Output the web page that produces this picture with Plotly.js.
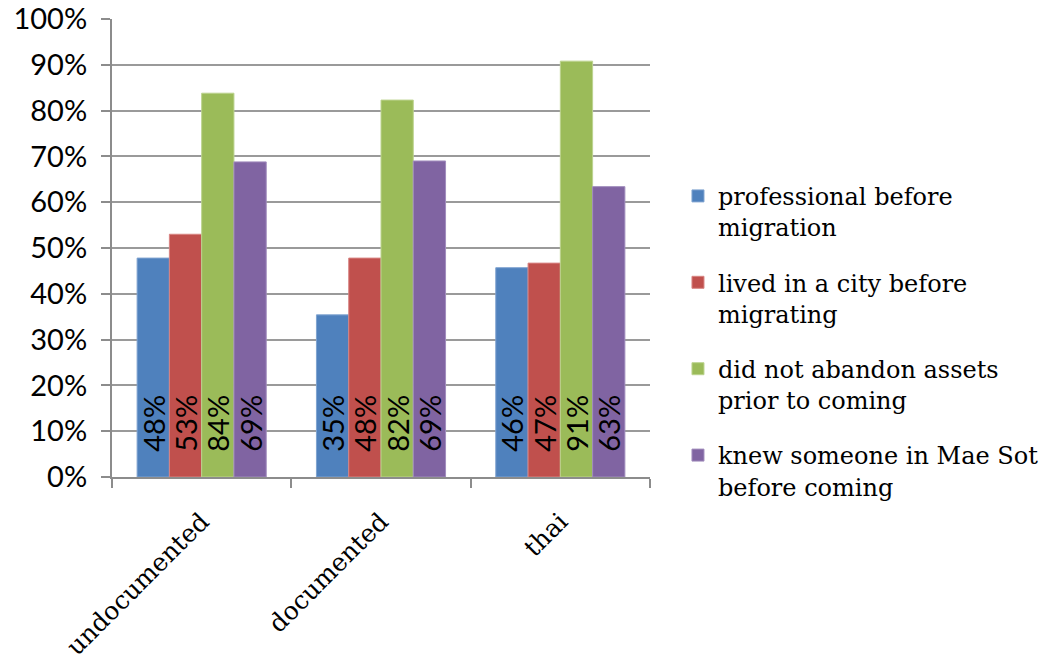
<!DOCTYPE html>
<html>
<head>
<meta charset="utf-8">
<script src="https://cdn.plot.ly/plotly-3.0.1.min.js"></script>
<style>html,body{margin:0;padding:0;background:#fff;}#chart{width:1053px;height:657px;}</style>
</head>
<body>
<div id="chart"></div>
<script>
const categories = ['undocumented', 'documented', 'thai'];
const seriesNames = [
  'professional before<br>migration',
  'lived in a city before<br>migrating',
  'did not abandon assets<br>prior to coming',
  'knew someone in Mae Sot<br>before coming'
];
const professional = [0.478, 0.354, 0.457];
const livedInCity = [0.530, 0.478, 0.467];
const notAbandon = [0.838, 0.823, 0.908];
const knewSomeone = [0.688, 0.690, 0.634];
const seriesValues = [professional, livedInCity, notAbandon, knewSomeone];
const colors = ['#4F81BD', '#C0504D', '#9BBB59', '#8064A2'];
const lineColors = ['#7fa3d0', '#d88583', '#bcd38f', '#a18dbd'];

const traces = seriesValues.map((vals, i) => ({
  type: 'bar',
  name: seriesNames[i],
  legendgroup: 'g' + i,
  x: categories,
  y: vals,
  marker: {color: colors[i], line: {color: lineColors[i], width: 1}},
  texttemplate: '\u00a0\u00a0\u00a0%{y:.0%}',
  textposition: 'inside',
  insidetextanchor: 'start',
  textangle: -90,
  constraintext: 'none',
  textfont: {family: 'Lato, sans-serif', size: 29, color: '#000'},
  hoverinfo: 'skip'
}));

const layout = {
  width: 1053,
  height: 657,
  margin: {l: 112, r: 403, t: 19, b: 180, autoexpand: false},
  paper_bgcolor: '#fff',
  plot_bgcolor: '#fff',
  barmode: 'group',
  bargap: 0.28,
  bargroupgap: 0,
  showlegend: true,
  legend: {
    x: 1.052, xanchor: 'left',
    y: 0.662, yanchor: 'top',
    valign: 'top',
    traceorder: 'grouped',
    tracegroupgap: 21,
    font: {family: 'DejaVu Serif, serif', size: 24, color: '#000'}
  },
  xaxis: {
    type: 'category',
    tickson: 'boundaries',
    ticks: 'outside',
    ticklen: 9,
    tickwidth: 2,
    tickcolor: '#8c8c8c',
    showline: true,
    linecolor: '#8c8c8c',
    linewidth: 2,
    showgrid: false,
    tickangle: -45,
    ticklabelstandoff: 18,
    tickfont: {family: 'DejaVu Serif, serif', size: 25, color: '#000'},
    fixedrange: true
  },
  yaxis: {
    range: [0, 1],
    dtick: 0.1,
    tickformat: '.0%',
    ticks: 'outside',
    ticklen: 9,
    tickwidth: 2,
    tickcolor: '#8c8c8c',
    showline: true,
    linecolor: '#8c8c8c',
    linewidth: 2,
    showgrid: true,
    gridcolor: '#9a9a9a',
    gridwidth: 2,
    zeroline: false,
    ticklabelstandoff: 8,
    tickfont: {family: 'Lato, sans-serif', size: 29, color: '#000'},
    fixedrange: true
  }
};

Plotly.newPlot('chart', traces, layout, {displayModeBar: false, staticPlot: true});
</script>
</body>
</html>
